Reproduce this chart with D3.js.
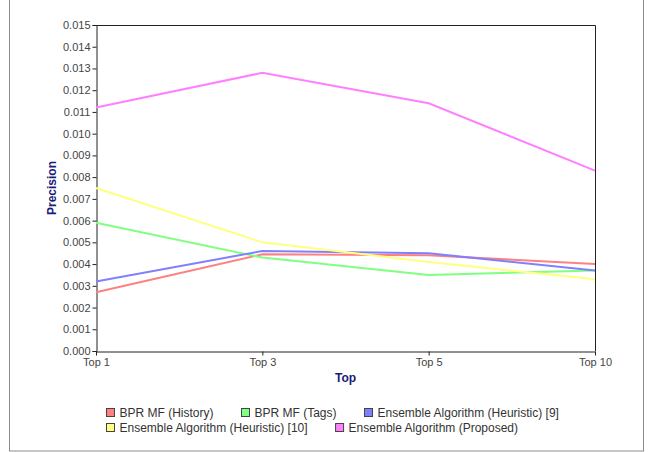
<!DOCTYPE html>
<html>
<head>
<meta charset="utf-8">
<script src="https://cdn.jsdelivr.net/npm/d3@7"></script>
<style>
  body { margin: 0; background: #fff; }
  svg { display: block; font-family: "Liberation Sans", Arial, sans-serif; }
</style>
</head>
<body>
<div id="chart"></div>
<script>
const categories = ["Top 1", "Top 3", "Top 5", "Top 10"]
const seriesNames = [
    "BPR MF (History)",
    "BPR MF (Tags)",
    "Ensemble Algorithm (Heuristic) [9]",
    "Ensemble Algorithm (Heuristic) [10]",
    "Ensemble Algorithm (Proposed)"
]
const seriesColors = ["#ff8080", "#80ff80", "#8080ff", "#ffff80", "#ff80ff"]
const historyValues = [0.0027, 0.00445, 0.0044, 0.0040]
const tagsValues = [0.0059, 0.0043, 0.0035, 0.0037]
const heuristic9Values = [0.0032, 0.0046, 0.0045, 0.0037]
const heuristic10Values = [0.0075, 0.0050, 0.0041, 0.0033]
const proposedValues = [0.0112, 0.0128, 0.0114, 0.0083]
const yTicks = d3.range(0, 16).map(i => i / 1000)

const seriesValues = [historyValues, tagsValues, heuristic9Values, heuristic10Values, proposedValues]

const width = 653, height = 452
const margin = { top: 25, right: 58, bottom: 101, left: 96 }
const plotW = width - margin.left - margin.right
const plotH = height - margin.top - margin.bottom

const svg = d3.select("#chart").append("svg")
    .attr("width", width)
    .attr("height", height)

// outer frame
svg.append("rect")
    .attr("x", 9.5).attr("y", -5)
    .attr("width", 634).attr("height", 456)
    .attr("fill", "none").attr("stroke", "#8c8c8c")

const graph = svg.append("g")
    .attr("transform", "translate(" + margin.left + "," + margin.top + ")")

const xScale = d3.scalePoint().domain(categories).range([0, plotW])
const yScale = d3.scaleLinear().domain([0, 0.015]).range([plotH, 0])

// plot border (top + right)
graph.append("path")
    .attr("d", `M0.5,0.5H${plotW + 0.5}V${plotH}`)
    .attr("fill", "none").attr("stroke", "#222")

const yAxis = graph.append("g")
    .attr("transform", "translate(0.5,0)")
    .call(d3.axisLeft(yScale).tickValues(yTicks).tickFormat(d3.format(".3f")).tickSize(4).tickPadding(2))
const xAxis = graph.append("g")
    .attr("transform", "translate(0," + (plotH + 0.5) + ")")
    .call(d3.axisBottom(xScale).tickSize(4).tickPadding(3).tickSizeOuter(0))

for (const ax of [xAxis, yAxis]) {
    ax.select(".domain").attr("stroke", "#222")
    ax.selectAll(".tick line").attr("stroke", "#222")
    ax.selectAll(".tick text")
        .attr("fill", "#444")
        .style("font-size", "11px")
        .style("font-family", "'Liberation Sans', Arial, sans-serif")
}

// axis labels
svg.append("text")
    .attr("x", margin.left + plotW / 2).attr("y", 382)
    .attr("text-anchor", "middle")
    .attr("fill", "#1b1b7a").style("font-weight", "bold").style("font-size", "12px")
    .text("Top")
svg.append("text")
    .attr("transform", "translate(56," + (margin.top + plotH / 2) + ") rotate(-90)")
    .attr("text-anchor", "middle")
    .attr("fill", "#1b1b7a").style("font-weight", "bold").style("font-size", "12px")
    .text("Precision")

// lines
const line = d3.line()
    .x((d, i) => xScale(categories[i]))
    .y(d => yScale(d))

graph.selectAll(".series")
    .data(seriesValues)
    .enter()
    .append("path")
    .attr("class", "series")
    .attr("d", d => line(d))
    .attr("fill", "none")
    .attr("stroke", (d, i) => seriesColors[i])
    .attr("stroke-width", 2)

// legend (flow layout)
const legend = svg.append("g")
let lx = 106, ly = 413
const legendRight = 565
seriesNames.forEach((name, i) => {
    const item = legend.append("g")
    item.append("rect")
        .attr("width", 8).attr("height", 8)
        .attr("fill", seriesColors[i]).attr("stroke", "#444")
    const t = item.append("text")
        .attr("x", 13).attr("y", 8.5)
        .attr("fill", "#333").style("font-size", "12px")
        .text(name)
    const w = 13 + t.node().getComputedTextLength()
    if (lx + w > legendRight && lx > 106) {
        lx = 106
        ly += 15
    }
    item.attr("transform", "translate(" + (lx + 0.5) + "," + (ly - 4.5) + ")")
    lx += w + 28
})
</script>
</body>
</html>
